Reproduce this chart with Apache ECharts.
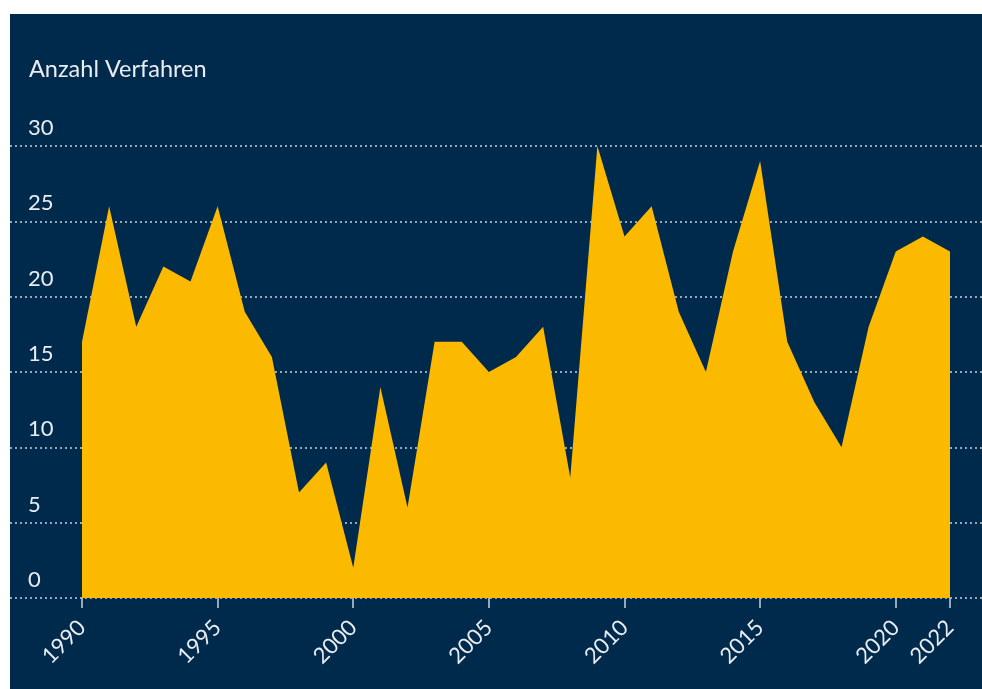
<!DOCTYPE html>
<html>
<head>
<meta charset="utf-8">
<script src="https://cdn.jsdelivr.net/npm/echarts@6/dist/echarts.min.js"></script>
<style>
  html, body { margin: 0; padding: 0; background: #ffffff; }
  #chart { position: absolute; left: 10px; top: 14px; width: 972px; height: 675px; }
</style>
</head>
<body>
<div id="chart"></div>
<script>
// Verfahren per year, 1990–2022
const years = [1990, 1991, 1992, 1993, 1994, 1995, 1996, 1997, 1998, 1999,
               2000, 2001, 2002, 2003, 2004, 2005, 2006, 2007, 2008, 2009,
               2010, 2011, 2012, 2013, 2014, 2015, 2016, 2017, 2018, 2019,
               2020, 2021, 2022];
const verfahren = [17, 26, 18, 22, 21, 26, 19, 16, 7, 9,
                   2, 14, 6, 17, 17, 15, 16, 18, 8, 30,
                   24, 26, 19, 15, 23, 29, 17, 13, 10, 18,
                   23, 24, 23];
const yearTicks = [1990, 1995, 2000, 2005, 2010, 2015, 2020, 2022];
const valueTicks = [0, 5, 10, 15, 20, 25, 30];
const yTitle = 'Anzahl Verfahren';

const FONT = 'Lato, "Open Sans", sans-serif';
const TEXT = '#e9edf1';

const chart = echarts.init(document.getElementById('chart'));
const points = years.map((y, i) => [y, verfahren[i]]);

// x range padded so the grid spans the full panel width
const pxPerYear = 868 / 32;
const xMin = 1990 - 72 / pxPerYear;
const xMax = 2022 + 32 / pxPerYear;

chart.setOption({
  backgroundColor: '#002a4c',
  animation: false,
  title: {
    text: yTitle,
    left: 14,
    top: 38,
    textStyle: { color: TEXT, fontFamily: FONT, fontSize: 23.5, fontWeight: 'normal' }
  },
  grid: { left: 0, right: 0, top: 132, bottom: 91 },
  xAxis: {
    type: 'value',
    min: xMin,
    max: xMax,
    axisLine: { show: false },
    splitLine: { show: false },
    axisTick: {
      show: true,
      customValues: yearTicks,
      length: 10,
      lineStyle: { color: '#c9d2db', width: 1.5 }
    },
    axisLabel: {
      customValues: yearTicks,
      rotate: 45,
      margin: 26,
      color: TEXT,
      fontFamily: FONT,
      fontSize: 22,
      formatter: v => String(v)
    }
  },
  yAxis: {
    type: 'value',
    min: 0,
    max: 30,
    interval: 5,
    axisLine: { show: false },
    axisTick: { show: false },
    axisLabel: {
      inside: true,
      margin: 18,
      align: 'left',
      verticalAlign: 'bottom',
      padding: [0, 0, 7, 0],
      color: TEXT,
      fontFamily: FONT,
      fontSize: 22,
      customValues: valueTicks
    },
    splitLine: {
      show: true,
      lineStyle: { color: '#c9d2db', width: 1.5, type: [2, 3] }
    }
  },
  series: [{
    type: 'line',
    data: points,
    symbol: 'none',
    lineStyle: { width: 0 },
    areaStyle: { color: '#fbba00', opacity: 1 },
    z: 2
  }]
});
</script>
</body>
</html>
